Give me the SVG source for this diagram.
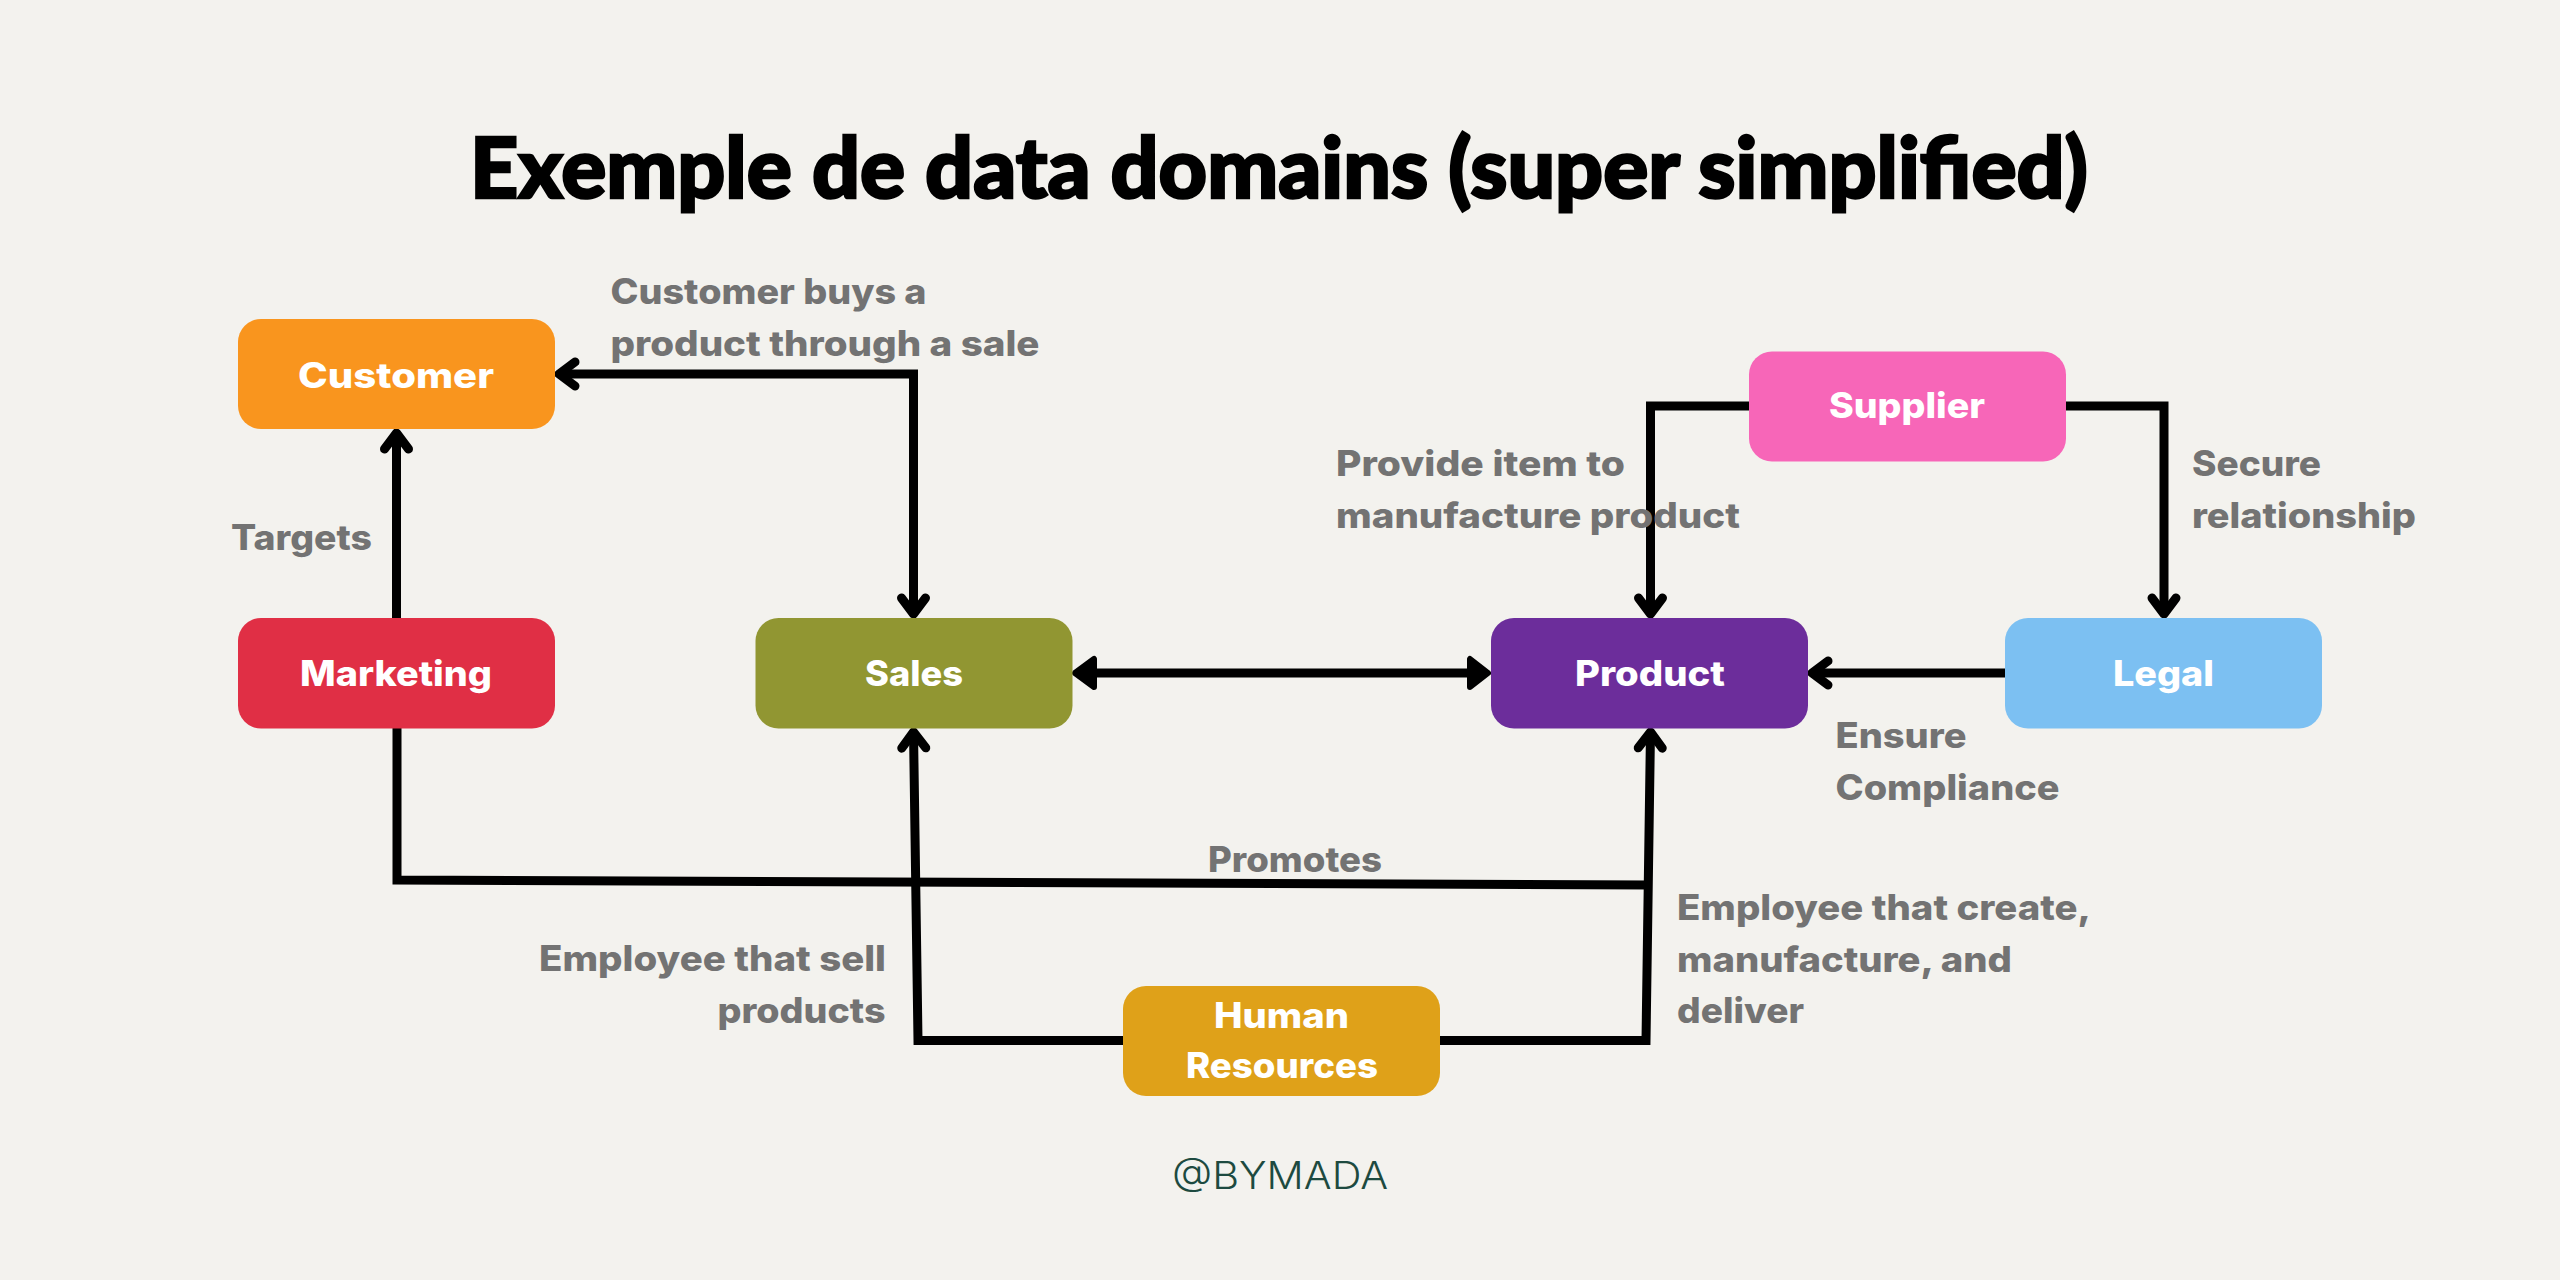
<svg xmlns="http://www.w3.org/2000/svg" width="2560" height="1280" viewBox="0 0 2560 1280">
<style>
.bg{fill:#f3f2ee}
.box{stroke:none}
.nl{font-family:"Inter","Liberation Sans",sans-serif;font-weight:800;font-size:35px;fill:#ffffff}
.lb{font-family:"Inter","Liberation Sans",sans-serif;font-weight:800;font-size:35px;fill:#737373}
.ti{font-family:"Lato","Liberation Sans",sans-serif;font-weight:900;font-size:84px;fill:#000000;stroke:#000;stroke-width:2.5px}
.ft{font-family:"Inter","Liberation Sans",sans-serif;font-weight:300;font-size:38px;fill:#1d4a40}
.c{fill:none;stroke:#000;stroke-width:9;stroke-linejoin:miter}
</style>
<defs>
<marker id="open" markerUnits="userSpaceOnUse" viewBox="-30 -20 40 40" refX="0" refY="0" markerWidth="40" markerHeight="40" orient="auto-start-reverse">
<path d="M-17,-12 L-1,0 L-17,12" fill="none" stroke="#000" stroke-width="9" stroke-linecap="round" stroke-linejoin="round"/>
</marker>
</defs>
<rect class="bg" x="0" y="0" width="2560" height="1280"/>
<text class="ti" x="470" y="198" textLength="1618" lengthAdjust="spacingAndGlyphs">Exemple de data domains (super simplified)</text>
<g id="connectors">
<path class="c" d="M558,374 H913.5 V615" marker-start="url(#open)" marker-end="url(#open)"/>
<path class="c" d="M396.5,618 V432" marker-end="url(#open)"/>
<path class="c" d="M1749,406 H1650.5 V615" marker-end="url(#open)"/>
<path class="c" d="M2066,406 H2164 V615" marker-end="url(#open)"/>
<path class="c" d="M2005,673 H1811" marker-end="url(#open)"/>
<path class="c" d="M397,728 V880 L1650,885"/>
<path class="c" d="M1123,1040.5 H918 L913.5,731" marker-end="url(#open)"/>
<path class="c" d="M1440,1040.5 H1646 L1650.5,731" marker-end="url(#open)"/>
<path class="c" d="M1095,673 H1470"/>
<path d="M1075,673 L1094,659 V687 Z" fill="#000" stroke="#000" stroke-width="6" stroke-linejoin="round"/>
<path d="M1488,673 L1470,659 V687 Z" fill="#000" stroke="#000" stroke-width="6" stroke-linejoin="round"/>
</g>
<g id="labels">
<text class="lb" x="610.5" y="304" textLength="316" lengthAdjust="spacingAndGlyphs">Customer buys a</text>
<text class="lb" x="610.5" y="356" textLength="429" lengthAdjust="spacingAndGlyphs">product through a sale</text>
<text class="lb" x="231" y="550" textLength="141" lengthAdjust="spacingAndGlyphs">Targets</text>
<text class="lb" x="1336" y="476" textLength="289" lengthAdjust="spacingAndGlyphs">Provide item to</text>
<text class="lb" x="1336" y="528" textLength="404" lengthAdjust="spacingAndGlyphs">manufacture product</text>
<text class="lb" x="2192" y="476" textLength="129" lengthAdjust="spacingAndGlyphs">Secure</text>
<text class="lb" x="2192" y="528" textLength="224" lengthAdjust="spacingAndGlyphs">relationship</text>
<text class="lb" x="1835.5" y="748" textLength="131" lengthAdjust="spacingAndGlyphs">Ensure</text>
<text class="lb" x="1835.5" y="800" textLength="224" lengthAdjust="spacingAndGlyphs">Compliance</text>
<text class="lb" x="1208" y="872" textLength="174" lengthAdjust="spacingAndGlyphs">Promotes</text>
<text class="lb" x="539" y="971" textLength="347" lengthAdjust="spacingAndGlyphs">Employee that sell</text>
<text class="lb" x="717.5" y="1023" textLength="168" lengthAdjust="spacingAndGlyphs">products</text>
<text class="lb" x="1677" y="920" textLength="414" lengthAdjust="spacingAndGlyphs">Employee that create,</text>
<text class="lb" x="1677" y="972" textLength="335" lengthAdjust="spacingAndGlyphs">manufacture, and</text>
<text class="lb" x="1677" y="1023" textLength="127" lengthAdjust="spacingAndGlyphs">deliver</text>
<text class="ft" x="1172" y="1189" textLength="216" lengthAdjust="spacingAndGlyphs">@BYMADA</text>
</g>
<g id="customer"><rect class="box" x="238" y="319" width="317" height="110" rx="23" fill="#f9951e"/><text class="nl" x="298" y="388" textLength="196" lengthAdjust="spacingAndGlyphs">Customer</text></g>
<g id="marketing"><rect class="box" x="238" y="618" width="317" height="110.500" rx="23" fill="#e02f45"/><text class="nl" x="300" y="686" textLength="192" lengthAdjust="spacingAndGlyphs">Marketing</text></g>
<g id="sales"><rect class="box" x="755.500" y="618" width="317" height="110.500" rx="23" fill="#919632"/><text class="nl" x="865" y="686" textLength="98" lengthAdjust="spacingAndGlyphs">Sales</text></g>
<g id="product"><rect class="box" x="1491" y="618" width="317" height="110.500" rx="23" fill="#6c2d9b"/><text class="nl" x="1575" y="686" textLength="150" lengthAdjust="spacingAndGlyphs">Product</text></g>
<g id="legal"><rect class="box" x="2005" y="618" width="317" height="110.500" rx="23" fill="#7cc0f2"/><text class="nl" x="2113" y="686" textLength="101" lengthAdjust="spacingAndGlyphs">Legal</text></g>
<g id="supplier"><rect class="box" x="1749" y="351.500" width="317" height="110" rx="23" fill="#f766b8"/><text class="nl" x="1829" y="418" textLength="156" lengthAdjust="spacingAndGlyphs">Supplier</text></g>
<g id="human-resources"><rect class="box" x="1123" y="986" width="317" height="110" rx="23" fill="#dfa119"/><text class="nl" x="1214" y="1028" textLength="135" lengthAdjust="spacingAndGlyphs">Human</text><text class="nl" x="1186" y="1078" textLength="192" lengthAdjust="spacingAndGlyphs">Resources</text></g>
</svg>
